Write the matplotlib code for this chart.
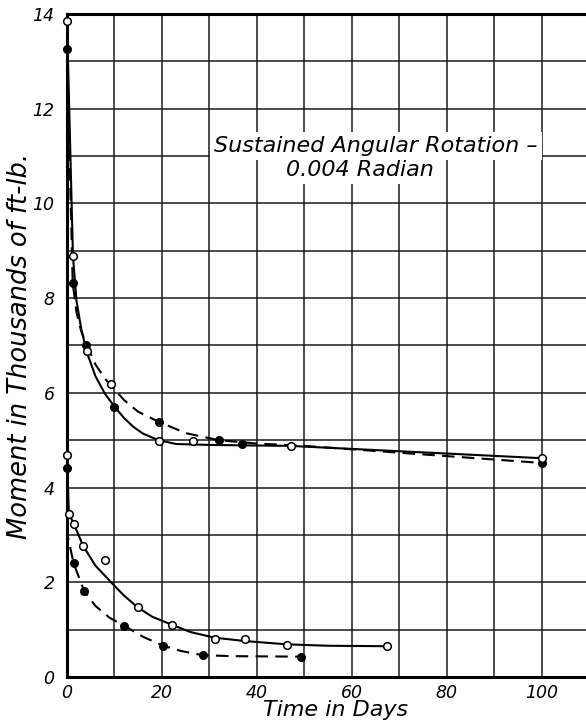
import matplotlib.pyplot as plt
import numpy as np

# upper pair: open points (solid line) and filled points (dashed line)
upper_open_x = [0, 1.26, 4.2, 9.3, 19.3, 26.5, 47.2, 100]
upper_open_y = [13.85, 8.89, 6.88, 6.18, 4.99, 4.98, 4.88, 4.62]
upper_fill_x = [0, 1.2, 4.0, 10.0, 19.3, 32.1, 36.8, 100]
upper_fill_y = [13.25, 8.32, 7.02, 5.71, 5.39, 5.0, 4.93, 4.52]

# lower pair
lower_open_x = [0, 0.4, 1.4, 3.4, 8.1, 14.9, 22.2, 31.1, 37.4, 46.3, 67.3]
lower_open_y = [4.69, 3.45, 3.24, 2.77, 2.47, 1.47, 1.10, 0.81, 0.80, 0.68, 0.65]
lower_fill_x = [0, 1.4, 3.6, 12.1, 20.3, 28.6, 49.3]
lower_fill_y = [4.41, 2.40, 1.82, 1.08, 0.66, 0.46, 0.43]

# faired curves
upper_solid_x = [0, 1.26, 2, 3, 4.2, 6, 8, 10, 12, 14, 16, 19.3, 23, 30, 47, 100]
upper_solid_y = [13.85, 8.89, 7.95, 7.35, 6.85, 6.35, 5.98, 5.71, 5.47, 5.28, 5.14, 5.0, 4.92, 4.9, 4.88, 4.62]
upper_dash_x = [0, 1.2, 2, 3, 4.2, 6, 8, 9.3, 12, 15, 19.3, 25, 32, 40, 50, 100]
upper_dash_y = [13.25, 8.32, 7.7, 7.3, 7.0, 6.6, 6.3, 6.15, 5.85, 5.6, 5.39, 5.15, 5.0, 4.93, 4.88, 4.52]
lower_solid_x = [0, 0.4, 1.4, 3.4, 6, 9.3, 12, 14.9, 18, 22.2, 26, 31.1, 37.4, 46.3, 55, 67.3]
lower_solid_y = [4.69, 3.45, 3.24, 2.77, 2.35, 2.0, 1.72, 1.47, 1.27, 1.10, 0.95, 0.83, 0.76, 0.69, 0.66, 0.65]
lower_dash_x = [0, 0.1, 1.4, 3.6, 6, 9, 12.1, 16, 20.3, 24, 28.6, 35, 49.3]
lower_dash_y = [4.41, 3.0, 2.40, 1.82, 1.5, 1.25, 1.08, 0.85, 0.66, 0.55, 0.46, 0.44, 0.43]

x_ticks = [0, 20, 40, 60, 80, 100]
y_ticks = [0, 2, 4, 6, 8, 10, 12, 14]

font = {"family": "DejaVu Sans", "style": "italic"}

fig = plt.figure(figsize=(5.86, 7.24), dpi=100)
ax = fig.add_axes([0.1143, 0.0649, 0.8857, 0.9158])

ax.set_xlim(0, 109.3)
ax.set_ylim(0, 14)
ax.set_xticks(np.arange(0, 110, 10))
ax.set_yticks(np.arange(0, 15, 1))
ax.grid(True, color="#1a1a1a", linewidth=1.1)
ax.set_axisbelow(True)
ax.tick_params(axis="x", length=0, pad=5)
ax.tick_params(axis="y", length=0, pad=9)
ax.set_xticklabels([str(v) if v in x_ticks else "" for v in range(0, 110, 10)],
                   fontsize=12.5, **font)
ax.set_yticklabels([str(v) if v in y_ticks else "" for v in range(0, 15)],
                   fontsize=12.5, **font)
for s in ["left", "top", "bottom"]:
    ax.spines[s].set_linewidth(2.2)
ax.spines["right"].set_visible(False)

dash = (0, (6, 3.5))
ax.plot(upper_solid_x, upper_solid_y, color="black", lw=1.5, zorder=3)
ax.plot(upper_dash_x, upper_dash_y, color="black", lw=1.5, ls=dash, zorder=3)
ax.plot(lower_solid_x, lower_solid_y, color="black", lw=1.5, zorder=3)
ax.plot(lower_dash_x, lower_dash_y, color="black", lw=1.5, ls=dash, zorder=3)

ax.plot(upper_fill_x, upper_fill_y, "o", color="black", ms=5.5, zorder=4, clip_on=False)
ax.plot(lower_fill_x, lower_fill_y, "o", color="black", ms=5.5, zorder=4, clip_on=False)
ax.plot(upper_open_x, upper_open_y, "o", mfc="white", mec="black", mew=1.1, ms=5.5,
        zorder=5, clip_on=False)
ax.plot(lower_open_x, lower_open_y, "o", mfc="white", mec="black", mew=1.1, ms=5.5,
        zorder=5, clip_on=False)

box = {"facecolor": "white", "edgecolor": "none", "pad": 3}
ax.text(65.0, 11.21, "Sustained Angular Rotation \u2013", ha="center", va="center",
        fontsize=16, bbox=box, zorder=6, **font)
ax.text(61.7, 10.71, "0.004 Radian", ha="center", va="center",
        fontsize=16, bbox=box, zorder=6, **font)

fig.text(0.573, 0.0105, "Time in Days", ha="center", va="baseline", fontsize=16, **font)
fig.text(0.034, 0.522, "Moment in Thousands of ft-lb.", ha="center", va="center",
         rotation=90, fontsize=18.5, **font)

fig.savefig("out.png", dpi=100)
